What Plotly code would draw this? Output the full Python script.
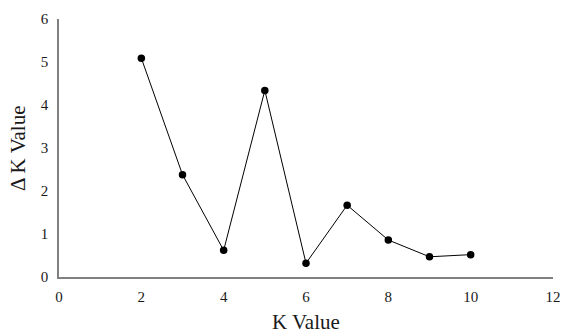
import plotly.graph_objects as go

k_values = [2, 3, 4, 5, 6, 7, 8, 9, 10]
delta_k = [5.09, 2.38, 0.62, 4.34, 0.32, 1.67, 0.86, 0.47, 0.52]

fig = go.Figure()
fig.add_trace(go.Scatter(
    x=k_values, y=delta_k, mode="lines+markers",
    line=dict(color="black", width=1),
    marker=dict(color="black", size=7.5),
    showlegend=False,
))
font = dict(family="Liberation Serif", size=15, color="#1a1a1a")
fig.update_layout(
    width=564, height=335,
    margin=dict(l=59, r=11, t=19, b=58, autoexpand=False),
    paper_bgcolor="white", plot_bgcolor="white",
    font=font,
)
fig.update_xaxes(
    range=[0, 12], tickvals=[0, 2, 4, 6, 8, 10, 12],
    showgrid=False, zeroline=False, showline=True, linecolor="#808080", linewidth=1.5,
    ticks="", automargin=False, ticklabelstandoff=5,
)
fig.update_yaxes(
    range=[0, 6], tickvals=[0, 1, 2, 3, 4, 5, 6],
    showgrid=False, zeroline=False, showline=True, linecolor="#808080", linewidth=1.5,
    ticks="", automargin=False, ticklabelstandoff=6,
)
fig.add_annotation(text="K Value", xref="paper", yref="paper", x=0.5, y=-0.176,
                   xanchor="center", yanchor="middle", showarrow=False,
                   font=dict(size=21))
fig.add_annotation(text="Δ K Value", xref="paper", yref="paper", x=-0.083, y=0.5,
                   xanchor="center", yanchor="middle", showarrow=False, textangle=-90,
                   font=dict(size=21))
fig.write_html("out.html", config={"displayModeBar": False},
               post_script="document.body.style.margin='0';document.body.style.overflow='hidden';")
